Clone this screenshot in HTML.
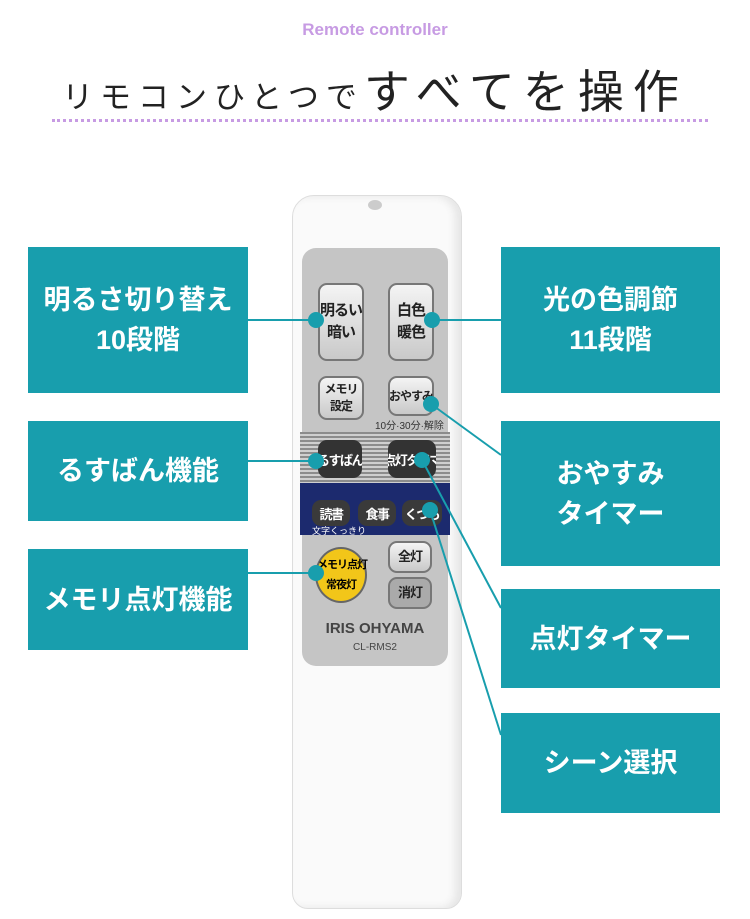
<!DOCTYPE html>
<html><head><meta charset="utf-8"><style>
body{margin:0;width:750px;height:919px;background:#fff;position:relative;overflow:hidden;font-family:"Liberation Sans","Noto Sans CJK JP",sans-serif}
.a{position:absolute}
.box{position:absolute;background:#189ead;color:#fff;font-weight:bold;font-size:27px;display:flex;align-items:center;justify-content:center;text-align:center;line-height:40px;white-space:nowrap}
.btn{position:absolute;background:linear-gradient(#f4f4f4,#c9c9c9);border:2px solid #777;border-radius:9px;font-size:15px;color:#222;display:flex;align-items:center;justify-content:center;text-align:center;line-height:22px;font-weight:bold;white-space:nowrap;letter-spacing:-1px}
.dk{position:absolute;background:#333;border-radius:9px;color:#fff;font-size:13px;display:flex;align-items:center;justify-content:center;font-weight:bold;white-space:nowrap;letter-spacing:-1.5px;overflow:hidden}
</style></head><body>
<div class="a" style="left:0;width:750px;top:20px;text-align:center;color:#c79be3;font-size:17px;font-weight:bold">Remote controller</div>
<div class="a" style="left:0;width:750px;top:56px;text-align:center;color:#222;white-space:nowrap"><span style="font-size:31px;letter-spacing:7px">リモコンひとつで</span><span style="font-size:46px;letter-spacing:9px">すべてを操作</span></div>
<div class="a" style="left:52px;top:119px;width:656px;border-top:3px dotted #c79be3"></div>

<div class="a" style="left:292px;top:195px;width:168px;height:712px;background:#fafafa;border:1px solid #ddd;border-radius:22px 22px 16px 16px;box-shadow:inset -6px 0 8px #e6e6e6"></div>
<div class="a" style="left:368px;top:200px;width:14px;height:10px;border-radius:50%;background:#ccc"></div>
<div class="a" style="left:302px;top:248px;width:146px;height:418px;background:#c5c5c5;border-radius:14px"></div>
<div class="a" style="left:300px;top:432px;width:150px;height:52px;background:repeating-linear-gradient(#8c8c8c 0 2px,#cfcfcf 2px 4px)"></div>
<div class="a" style="left:300px;top:483px;width:150px;height:52px;background:#1c2a6e"></div>
<div class="btn" style="left:318px;top:283px;width:42px;height:74px">明るい<br>暗い</div>
<div class="btn" style="left:388px;top:283px;width:42px;height:74px">白色<br>暖色</div>
<div class="btn" style="left:318px;top:376px;width:42px;height:40px;font-size:12px;line-height:17px">メモリ<br>設定</div>
<div class="btn" style="left:388px;top:376px;width:42px;height:36px;font-size:12px">おやすみ</div>
<div class="a" style="left:375px;top:417px;font-size:10px;color:#333">10分·30分·解除</div>
<div class="dk" style="left:318px;top:440px;width:44px;height:38px">るすばん</div>
<div class="dk" style="left:388px;top:440px;width:48px;height:38px">点灯タイマ</div>
<div class="dk" style="left:312px;top:500px;width:38px;height:26px;background:#3a3a3a">読書</div>
<div class="dk" style="left:358px;top:500px;width:38px;height:26px;background:#3a3a3a">食事</div>
<div class="dk" style="left:402px;top:500px;width:40px;height:26px;background:#3a3a3a">くつろ</div>
<div class="a" style="left:312px;top:524px;font-size:9px;color:#fff">文字くっきり</div>
<div class="a" style="left:315px;top:547px;width:52px;height:56px;border-radius:50%;background:#f2c619;border:2px solid #666;font-size:11px;font-weight:bold;text-align:center;line-height:20px;padding-top:6px;box-sizing:border-box;white-space:nowrap;letter-spacing:-1px">メモリ点灯<br>常夜灯</div>
<div class="btn" style="left:388px;top:541px;width:40px;height:28px;font-size:13px">全灯</div>
<div class="btn" style="left:388px;top:577px;width:40px;height:28px;font-size:13px;background:#aaa">消灯</div>
<div class="a" style="left:300px;top:620px;width:150px;text-align:center;font-size:15px;font-weight:bold;color:#444">IRIS OHYAMA</div>
<div class="a" style="left:300px;top:642px;width:150px;text-align:center;font-size:10px;color:#444">CL-RMS2</div>

<div class="box" style="left:28px;top:247px;width:220px;height:146px">明るさ切り替え<br>10段階</div>
<div class="box" style="left:28px;top:421px;width:220px;height:100px">るすばん機能</div>
<div class="box" style="left:28px;top:549px;width:220px;height:101px">メモリ点灯機能</div>
<div class="box" style="left:501px;top:247px;width:219px;height:146px">光の色調節<br>11段階</div>
<div class="box" style="left:501px;top:421px;width:219px;height:145px">おやすみ<br>タイマー</div>
<div class="box" style="left:501px;top:589px;width:219px;height:99px">点灯タイマー</div>
<div class="box" style="left:501px;top:713px;width:219px;height:100px">シーン選択</div>

<svg class="a" style="left:0;top:0" width="750" height="919">
<g stroke="#189ead" stroke-width="2" fill="none">
<line x1="248" y1="320" x2="316" y2="320"/>
<line x1="432" y1="320" x2="501" y2="320"/>
<line x1="248" y1="461" x2="316" y2="461"/>
<line x1="248" y1="573" x2="316" y2="573"/>
<line x1="431" y1="404" x2="501" y2="455"/>
<line x1="422" y1="460" x2="501" y2="608"/>
<line x1="430" y1="510" x2="501" y2="735"/>
</g>
<g fill="#189ead">
<circle cx="316" cy="320" r="8"/><circle cx="432" cy="320" r="8"/>
<circle cx="316" cy="461" r="8"/><circle cx="316" cy="573" r="8"/>
<circle cx="431" cy="404" r="8"/><circle cx="422" cy="460" r="8"/><circle cx="430" cy="510" r="8"/>
</g></svg>
</body></html>
